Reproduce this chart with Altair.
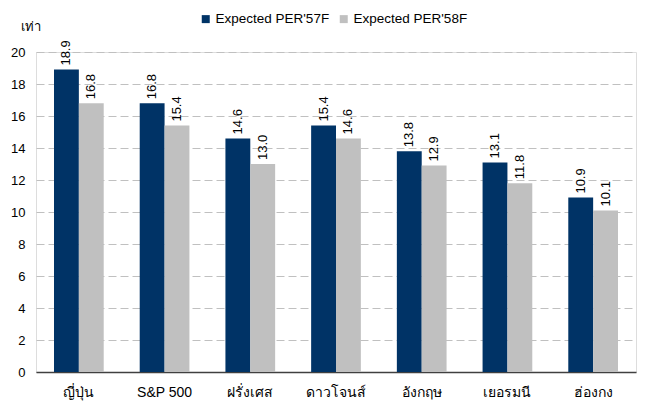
import altair as alt
import pandas as pd

categories = ["ญี่ปุ่น", "S&P 500", "ฝรั่งเศส", "ดาวโจนส์", "อังกฤษ", "เยอรมนี", "ฮ่องกง"]
series = ["Expected PER'57F", "Expected PER'58F"]
per57 = [18.9, 16.8, 14.6, 15.4, 13.8, 13.1, 10.9]
per58 = [16.8, 15.4, 13.0, 14.6, 12.9, 11.8, 10.1]
colors = ["#003366", "#c0c0c0"]
y_ticks = list(range(0, 21, 2))

rows = []
for i, c in enumerate(categories):
    rows.append({"cat": c, "series": series[0], "value": per57[i]})
    rows.append({"cat": c, "series": series[1], "value": per58[i]})
df = pd.DataFrame(rows)

FONT = "Liberation Sans"

x_enc = alt.X("cat:N", sort=categories,
              scale=alt.Scale(paddingInner=0.42, paddingOuter=0.21),
              axis=alt.Axis(title=None, labelAngle=0, ticks=False, tickSize=0,
                            labelPadding=13, labelFontSize=14, labelColor="#000000",
                            labelFont=FONT, domainColor="#404040", domainWidth=1.5,
                            grid=False))
xoff = alt.XOffset("series:N", sort=series, scale=alt.Scale(paddingInner=0, paddingOuter=0))
y_enc = alt.Y("value:Q",
              scale=alt.Scale(domain=[0, 20], nice=False),
              axis=alt.Axis(values=y_ticks, tickCount=11, labelOverlap=False,
                            title="เท่า", titleAngle=0, titleAlign="left",
                            titleBaseline="alphabetic", titleX=-16, titleY=-22,
                            titleFontSize=13, titleFontWeight="normal", titleFont=FONT,
                            titleColor="#000000",
                            ticks=False, tickSize=0, domain=False, labelPadding=11,
                            labelFontSize=13, labelFont=FONT, labelColor="#000000",
                            gridColor="#c0c0c0", gridDash=[8, 4], gridWidth=1))

bars = alt.Chart(df).mark_bar().encode(
    x=x_enc,
    xOffset=xoff,
    y=y_enc,
    color=alt.Color("series:N", sort=series,
                    scale=alt.Scale(domain=series, range=colors),
                    legend=alt.Legend(title=None, orient="none", direction="horizontal",
                                      legendX=163, legendY=-40, padding=0,
                                      symbolType="square", symbolSize=64,
                                      symbolStrokeWidth=0, labelFontSize=13.5,
                                      labelFont=FONT, labelColor="#000000",
                                      labelOffset=3, columnPadding=7)),
)

labels = alt.Chart(df).mark_text(angle=270, align="left", baseline="middle", dx=4,
                                 fontSize=13, font=FONT, color="#000000").encode(
    x=x_enc,
    xOffset=xoff,
    y=y_enc,
    text=alt.Text("value:Q", format=".1f"),
)

chart = alt.layer(bars, labels).properties(
    width=600, height=320,
    autosize=alt.AutoSizeParams(type="none"),
    padding={"left": 28, "top": 44, "right": 2, "bottom": 29},
).configure_view(stroke=None).configure(background="#ffffff")

chart.save("out.html", embed_options={"renderer": "svg", "actions": False})
